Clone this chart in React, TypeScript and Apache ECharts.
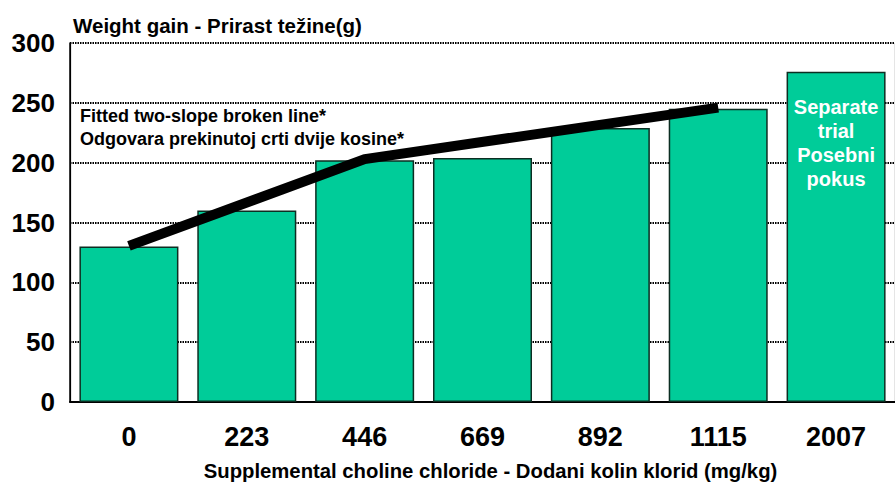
import React, { useEffect, useRef } from "react";
import * as echarts from "echarts";

const categories = ["0", "223", "446", "669", "892", "1115", "2007"];
const weightGain = [130, 160, 202, 204, 229, 245, 276];
// fitted two-slope broken line: breakpoints only
const fittedLine = [130.5, null, 203, null, null, 246, null];
const yTicks = [0, 50, 100, 150, 200, 250, 300];
const separateLabel = ["Separate", "trial", "Posebni", "pokus"];
const legendLines = ["Fitted two-slope broken line*", "Odgovara prekinutoj crti dvije kosine*"];

const FONT = "'Liberation Sans', Arial, Helvetica, sans-serif";

export default function App() {
  const ref = useRef<HTMLDivElement>(null);
  useEffect(() => {
    if (!ref.current) return;
    const chart = echarts.init(ref.current, undefined, { renderer: "svg" });
    chart.setOption({
      animation: false,
      backgroundColor: "#ffffff",
      textStyle: { fontFamily: FONT },
      title: {
        text: "Weight gain - Prirast težine(g)",
        left: 68,
        top: 10,
        textStyle: { fontFamily: FONT, fontSize: 20.5, fontWeight: "bold", color: "#000" },
      },
      grid: { left: 70, right: -8, top: 43, bottom: 82, containLabel: false },
      xAxis: {
        type: "category",
        data: categories,
        axisLine: { show: true, lineStyle: { color: "#000", width: 2 } },
        axisTick: { show: false },
        axisLabel: {
          margin: 21,
          fontFamily: FONT,
          fontSize: 27,
          fontWeight: "bold",
          color: "#000",
        },
        splitLine: {
          show: true,
          interval: (i: number) => i === 6,
          lineStyle: { color: "#000", width: 1.2, type: "solid" },
        },
        name: "Supplemental choline chloride - Dodani kolin klorid (mg/kg)",
        nameLocation: "middle",
        nameGap: 59,
        nameTextStyle: {
          fontFamily: FONT,
          fontSize: 20.3,
          fontWeight: "bold",
          color: "#000",
          padding: [0, 0, 0, 16],
        },
      },
      yAxis: {
        type: "value",
        min: yTicks[0],
        max: yTicks[yTicks.length - 1],
        interval: 50,
        axisLine: { show: true, lineStyle: { color: "#000", width: 1.5 } },
        axisTick: { show: false },
        axisLabel: {
          margin: 15,
          fontFamily: FONT,
          fontSize: 26,
          fontWeight: "bold",
          color: "#000",
        },
        splitLine: {
          show: true,
          lineStyle: { color: "#000", width: 2, type: [1.5, 1] },
        },
      },
      graphic: legendLines.map((t, i) => ({
        type: "text",
        left: 80,
        top: 107 + i * 23,
        style: { text: t, fontFamily: FONT, fontSize: 18, fontWeight: "bold", fill: "#000" },
        z: 10,
      })),
      series: [
        {
          type: "bar",
          data: weightGain,
          barCategoryGap: "16%",
          itemStyle: { color: "#00CC99", borderColor: "#0c2e22", borderWidth: 1.5 },
          label: {
            show: true,
            position: "insideTop",
            distance: 23,
            formatter: (p: any) => (p.dataIndex === 6 ? separateLabel.join("\n") : ""),
            fontFamily: FONT,
            fontSize: 20,
            fontWeight: "bold",
            color: "#fff",
            lineHeight: 24,
            align: "center",
          },
          z: 2,
        },
        {
          type: "line",
          data: fittedLine,
          connectNulls: true,
          symbol: "none",
          lineStyle: { color: "#000", width: 10, cap: "butt" },
          z: 5,
        },
      ],
    });
    return () => chart.dispose();
  }, []);
  return <div ref={ref} style={{ width: 895, height: 486, position: "absolute", left: 0, top: 0 }} />;
}
